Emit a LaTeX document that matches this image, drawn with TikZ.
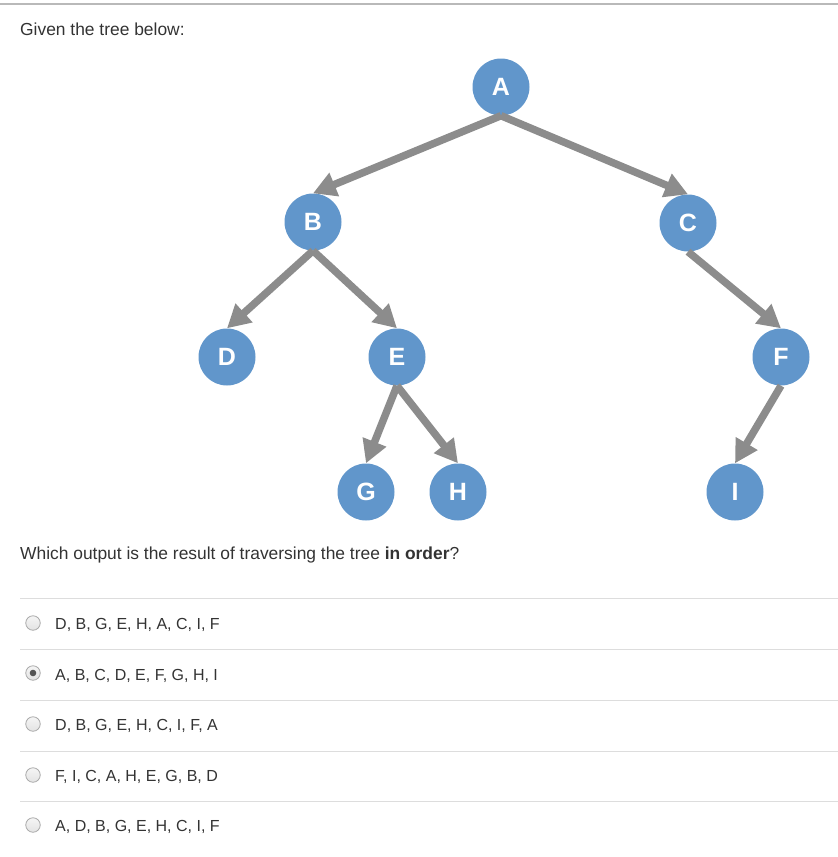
\documentclass[tikz,border=0pt]{standalone}
\usepackage{fontspec}
\setmainfont{Liberation Sans}
\usetikzlibrary{arrows.meta}
\definecolor{nodeblue}{RGB}{97,150,203}
\definecolor{edgegray}{RGB}{140,140,140}
\definecolor{txt}{RGB}{51,51,51}
\definecolor{sepline}{RGB}{221,221,221}
\definecolor{topline}{RGB}{185,185,185}
\definecolor{radioborder}{RGB}{170,170,170}
\definecolor{radiodot}{RGB}{85,85,85}
\begin{document}
\begin{tikzpicture}[x=1pt,y=-1pt,
  tnode/.style={circle,fill=nodeblue,minimum size=57pt,inner sep=0pt,text=white,
    font=\fontsize{25}{25}\selectfont\bfseries},
  edge/.style={draw=edgegray,line width=7.5pt,-{Triangle[length=23pt,width=24pt]}},
  bodytext/.style={anchor=base west,inner sep=0pt,text=txt,font=\fontsize{17.4}{20}\selectfont},
  opttext/.style={anchor=base west,inner sep=0pt,text=txt,font=\fontsize{16}{19}\selectfont},
  radio/.style={circle,minimum size=14.5pt,inner sep=0pt,draw=radioborder,line width=0.8pt,
    top color=white!92!gray,bottom color=white!78!gray},
  sep/.style={draw=sepline,line width=1pt}
]
\useasboundingbox (0,0) rectangle (838,857);
\draw[draw=topline,line width=1.5pt] (0,4) -- (838,4);
\node[bodytext] (given) at (20,35) {Given the tree below:};

\node[tnode] (A) at (501,87) {A};
\node[tnode] (B) at (313,222) {B};
\node[tnode] (C) at (688,223) {C};
\node[tnode] (D) at (227,357) {D};
\node[tnode] (E) at (397,357) {E};
\node[tnode] (F) at (781,357) {F};
\node[tnode] (G) at (366,492) {G};
\node[tnode] (H) at (458,492) {H};
\node[tnode] (I) at (735,492) {I};

\draw[edge] (A.south) -- (B.north);
\draw[edge] (A.south) -- (C.north);
\draw[edge] (B.south) -- (D.north);
\draw[edge] (B.south) -- (E.north);
\draw[edge] (C.south) -- (F.north);
\draw[edge] (E.south) -- (G.north);
\draw[edge] (E.south) -- (H.north);
\draw[edge] (F.south) -- (I.north);

\node[bodytext] (q) at (20,559) {Which output is the result of traversing the tree \textbf{in order}?};

\foreach \y in {598,649,700,751,801} \draw[sep] (20,\y) -- (838,\y);

\node[radio] (r1) at (33,623) {};
\node[radio] (r2) at (33,673) {};
\node[radio] (r3) at (33,724) {};
\node[radio] (r4) at (33,775) {};
\node[radio] (r5) at (33,825) {};
\fill[radiodot] (r2.center) circle (3.3pt);

\node[opttext] (o1) at (55,629) {D, B, G, E, H, A, C, I, F};
\node[opttext] (o2) at (55,680) {A, B, C, D, E, F, G, H, I};
\node[opttext] (o3) at (55,730) {D, B, G, E, H, C, I, F, A};
\node[opttext] (o4) at (55,781) {F, I, C, A, H, E, G, B, D};
\node[opttext] (o5) at (55,831) {A, D, B, G, E, H, C, I, F};
\end{tikzpicture}
\end{document}
